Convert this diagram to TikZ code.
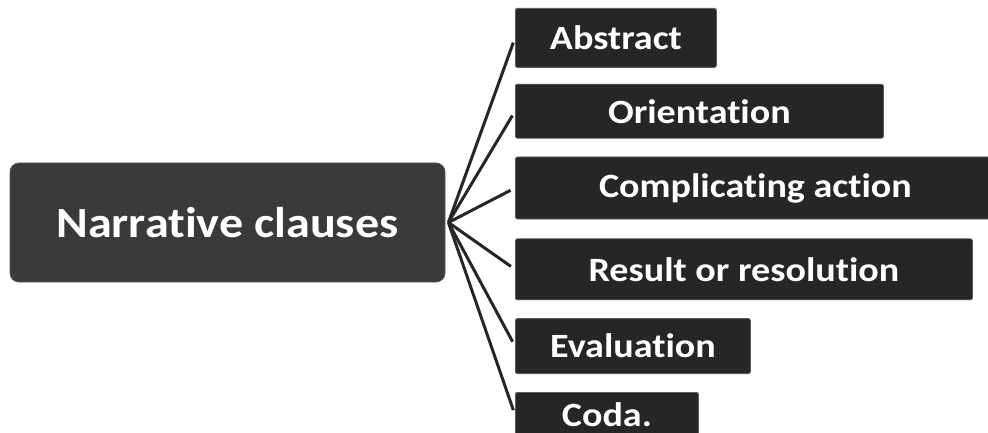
\documentclass[tikz,border=0pt]{standalone}
\usepackage{fontspec}
\setmainfont{Carlito}[Ligatures=NoCommon]
\newfontfamily\widefont{Carlito}[Ligatures=NoCommon, FakeStretch=1.12]
\usepackage{tikz}
\usetikzlibrary{positioning}

\definecolor{mainfill}{HTML}{3A3A3A}
\definecolor{partfill}{HTML}{262626}
\definecolor{edgegray}{HTML}{5A5A5A}

\begin{document}
\begin{tikzpicture}[
    x=1pt, y=1pt,
    mainbox/.style={
        rectangle, rounded corners=9pt,
        fill=mainfill, draw=edgegray, line width=0.8pt,
        minimum width=435pt, minimum height=119pt,
        inner sep=0pt, text=white,
        font=\widefont\fontsize{43}{50}\selectfont\bfseries,
        text centered
    },
    partbox/.style={
        rectangle, rounded corners=2pt,
        fill=partfill, draw=edgegray, line width=0.8pt,
        inner sep=0pt, text=white,
        font=\widefont\fontsize{34}{40}\selectfont\bfseries,
        text centered
    },
    branch/.style={line width=3pt, draw=partfill, shorten >=5pt}
]

\useasboundingbox (0,0) rectangle (988,-433);

\node[mainbox] (clauses) at (227.5,-222.5) {Narrative clauses};
\coordinate (hub) at ([xshift=3pt]clauses.east);

\node[partbox, minimum width=201pt, minimum height=59pt, anchor=north west] (abs) at (515,-8) {Abstract};
\node[partbox, minimum width=368pt, minimum height=54pt, below=16pt of abs.south west, anchor=north west] (ori) {Orientation};
\node[partbox, minimum width=480pt, minimum height=62pt, below=18pt of ori.south west, anchor=north west] (comp) {Complicating action};
\node[partbox, minimum width=457pt, minimum height=61pt, below=19pt of comp.south west, anchor=north west] (res) {Result or resolution};
\node[partbox, minimum width=235pt, minimum height=55pt, below=18pt of res.south west, anchor=north west] (eval) {Evaluation};
\node[partbox, minimum width=183pt, minimum height=45pt, below=18pt of eval.south west, anchor=north west] (coda) {Coda.};

\draw[branch] (hub) -- (abs.west);
\draw[branch] (hub) -- (ori.west);
\draw[branch] (hub) -- (comp.west);
\draw[branch] (hub) -- (res.west);
\draw[branch] (hub) -- (eval.west);
\draw[branch] (hub) -- (coda.west);

\end{tikzpicture}
\end{document}
